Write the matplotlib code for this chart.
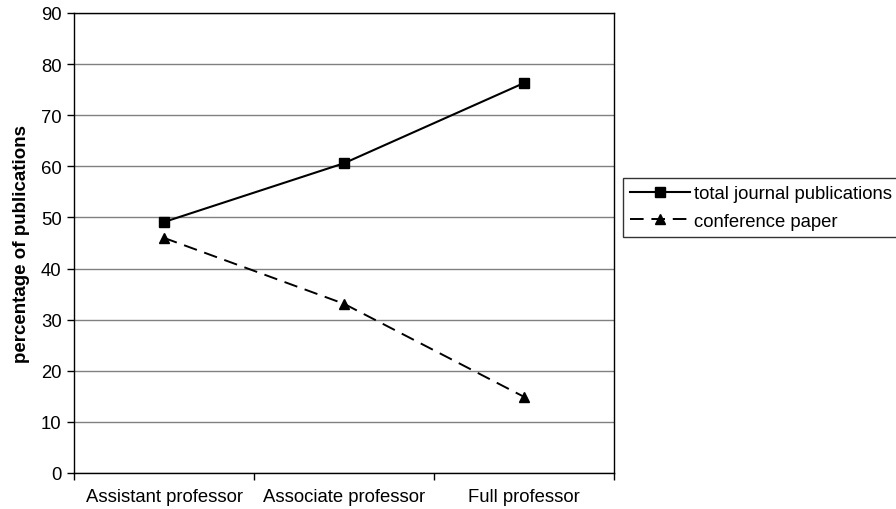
import numpy as np
import matplotlib.pyplot as plt

plt.rcParams['font.family'] = ['Liberation Sans', 'DejaVu Sans']

ranks = ['Assistant professor', 'Associate professor', 'Full professor']
journal = [49.1, 60.6, 76.3]
conference = [46.0, 33.1, 14.9]

fig = plt.figure(figsize=(8.96, 5.10), dpi=100)
ax = fig.add_axes([0.0826, 0.0706, 0.6027, 0.9020])

x = np.arange(len(ranks))
ax.plot(x, journal, color='black', lw=1.5, marker='s', ms=7,
        label='total journal publications')
ax.plot(x, conference, color='black', lw=1.4, ls=(0, (7, 4)), marker='^', ms=7,
        label='conference paper')

ax.set_xlim(-0.5, 2.5)
ax.set_ylim(0, 90)
ax.set_yticks(np.arange(0, 91, 10))
ax.yaxis.grid(True, color='#808080', lw=1)
ax.set_axisbelow(True)

# category labels centred, ticks on the boundaries
ax.set_xticks([-0.5, 0.5, 1.5, 2.5])
ax.set_xticklabels([])
ax.set_xticks(x, minor=True)
ax.set_xticklabels(ranks, minor=True, fontsize=13.3)
ax.tick_params(axis='x', which='minor', length=0, pad=11)
ax.tick_params(axis='x', which='major', direction='out', length=5, width=1)
ax.tick_params(axis='y', direction='out', length=5, width=1, labelsize=13.3, pad=4)

for s in ax.spines.values():
    s.set_color('black')
    s.set_linewidth(1)

ax.set_ylabel('percentage of publications', fontsize=13.5, fontweight='bold', labelpad=8)

fig.legend(loc='upper left', bbox_to_anchor=(623 / 896, 1 - 179 / 510),
           frameon=True, fancybox=False, edgecolor='black', fontsize=13.3,
           handlelength=3.2, handletextpad=0.25, borderpad=0.4, labelspacing=0.55,
           borderaxespad=0)

fig.savefig('out.png', dpi=100)
